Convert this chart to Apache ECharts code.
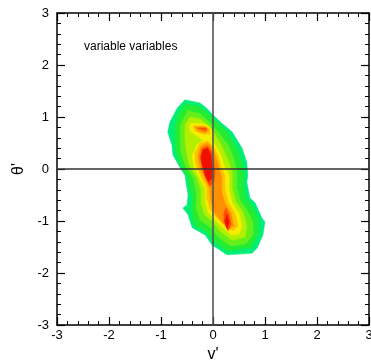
<!DOCTYPE html>
<html><head><meta charset="utf-8">
<script src="https://cdn.jsdelivr.net/npm/echarts@6/dist/echarts.min.js"></script>
<style>html,body{margin:0;padding:0;background:#fff}#c{width:371px;height:360px}</style>
</head><body><div id="c"></div>
<script>
const xTicks = [-3,-2,-1,0,1,2,3];
const yTicks = [-3,-2,-1,0,1,2,3];
const xName = "v'";
const yName = "θ'";
const note = "variable variables";
const levelColors = ['#00ee77','#22ec33','#66ee1a','#b4ee00','#f4ee00','#ffc000','#ff9000','#ff4e00','#ee1000'];

const level1 = [[-0.54,1.33],[-0.25,1.27],[-0.12,1.17],[0,1.04],[0.17,0.88],[0.37,0.71],[0.56,0.40],[0.65,0.13],[0.67,-0.12],[0.65,-0.25],[0.71,-0.56],[0.81,-0.65],[0.94,-0.94],[1.0,-1.02],[0.96,-1.27],[0.85,-1.52],[0.75,-1.62],[0.27,-1.65],[-0.02,-1.46],[-0.15,-1.27],[-0.40,-1.13],[-0.48,-0.88],[-0.58,-0.75],[-0.50,-0.69],[-0.48,-0.50],[-0.54,-0.12],[-0.63,0.02],[-0.77,0.27],[-0.79,0.46],[-0.87,0.71],[-0.83,0.90],[-0.69,1.17]];
const level2 = [[-0.52,1.25],[-0.25,1.19],[-0.06,1.04],[0.13,0.85],[0.29,0.69],[0.46,0.40],[0.56,0.13],[0.60,-0.12],[0.58,-0.31],[0.63,-0.56],[0.75,-0.71],[0.87,-0.94],[0.88,-1.23],[0.75,-1.50],[0.29,-1.58],[0.02,-1.40],[-0.12,-1.21],[-0.35,-1.08],[-0.42,-0.83],[-0.40,-0.56],[-0.48,-0.17],[-0.63,0.08],[-0.71,0.33],[-0.73,0.56],[-0.73,0.79],[-0.67,1.06]];
const level3 = [[-0.48,1.13],[-0.25,1.06],[-0.06,0.90],[0.10,0.71],[0.29,0.46],[0.40,0.21],[0.46,-0.06],[0.46,-0.37],[0.52,-0.60],[0.65,-0.79],[0.77,-1.02],[0.77,-1.27],[0.63,-1.44],[0.33,-1.48],[0.10,-1.31],[-0.04,-1.13],[-0.25,-0.98],[-0.33,-0.75],[-0.31,-0.50],[-0.38,-0.17],[-0.54,0.08],[-0.62,0.33],[-0.63,0.56],[-0.63,0.85]];
const level4 = [[-0.44,1.0],[-0.25,0.96],[-0.10,0.85],[0.02,0.69],[0.17,0.44],[0.29,0.17],[0.37,-0.06],[0.37,-0.37],[0.44,-0.63],[0.58,-0.83],[0.65,-1.08],[0.62,-1.31],[0.37,-1.37],[0.15,-1.21],[0,-1.02],[-0.17,-0.87],[-0.23,-0.65],[-0.23,-0.40],[-0.31,-0.17],[-0.46,0.08],[-0.52,0.37],[-0.54,0.62],[-0.54,0.85]];
const level5 = [[-0.42,0.88],[-0.21,0.87],[-0.06,0.81],[0,0.69],[-0.04,0.58],[0.06,0.44],[0.15,0.27],[0.21,0.08],[0.31,-0.12],[0.31,-0.40],[0.37,-0.65],[0.50,-0.85],[0.56,-1.10],[0.50,-1.25],[0.35,-1.27],[0.19,-1.13],[0.04,-0.98],[-0.10,-0.83],[-0.15,-0.60],[-0.15,-0.37],[-0.27,-0.15],[-0.38,0.08],[-0.40,0.27],[-0.31,0.46],[-0.19,0.56],[-0.29,0.62],[-0.42,0.71],[-0.46,0.81]];
const level6a = [[-0.38,0.83],[-0.17,0.83],[-0.06,0.77],[-0.06,0.67],[-0.19,0.67],[-0.35,0.73]];
const level6b = [[-0.25,0.50],[-0.10,0.54],[0.02,0.42],[0.10,0.25],[0.15,0.06],[0.23,-0.13],[0.23,-0.40],[0.29,-0.63],[0.42,-0.85],[0.48,-1.10],[0.38,-1.19],[0.23,-1.10],[0.08,-0.94],[-0.06,-0.77],[-0.12,-0.56],[-0.12,-0.35],[-0.23,-0.15],[-0.33,0.08],[-0.35,0.31]];
const level7a = [[-0.35,0.81],[-0.15,0.81],[-0.08,0.75],[-0.15,0.69],[-0.29,0.73]];
const level7b = [[-0.23,0.44],[-0.10,0.50],[0,0.38],[0.06,0.21],[0.12,0.02],[0.17,-0.17],[0.17,-0.44],[0.23,-0.65],[0.35,-0.85],[0.40,-1.10],[0.31,-1.15],[0.17,-1.02],[0.04,-0.85],[-0.04,-0.63],[-0.06,-0.40],[-0.13,-0.21],[-0.25,0.02],[-0.29,0.25]];
const level8a = [[-0.29,0.79],[-0.12,0.79],[-0.15,0.73]];
const level8b = [[-0.21,0.40],[-0.10,0.44],[-0.02,0.33],[0.02,0.13],[0.04,-0.06],[0.02,-0.25],[-0.06,-0.33],[-0.13,-0.21],[-0.19,-0.02],[-0.25,0.21]];
const level8c = [[0.25,-0.75],[0.31,-0.88],[0.35,-1.06],[0.29,-1.19],[0.21,-1.02],[0.21,-0.85]];
const level9a = [[-0.19,0.37],[-0.10,0.40],[-0.04,0.27],[-0.02,0.08],[-0.02,-0.17],[-0.08,-0.25],[-0.15,-0.12],[-0.21,0.08],[-0.23,0.23]];
const level9b = [[0.27,-0.87],[0.31,-1.02],[0.27,-1.15],[0.23,-1.0]];

const vLine = [[0,-3],[0,3]];
const hLine = [[-3,0],[3,0]];

const polys = [
  [level1,0],[level2,1],[level3,2],[level4,3],[level5,4],
  [level6a,5],[level6b,5],[level7a,6],[level7b,6],
  [level8a,7],[level8b,7],[level8c,7],[level9a,8],[level9b,8]
];

const FONT = 'Liberation Sans, Arial, sans-serif';
function polySeries(poly, ci){
  return {
    type:'custom', xAxisIndex:0, yAxisIndex:0, silent:true, z:2,
    data: poly,
    renderItem: function(params, api){
      if(params.dataIndex !== 0) return null;
      return {type:'polygon', shape:{points: poly.map(p => api.coord(p))},
        style:{fill: levelColors[ci], stroke: levelColors[ci], lineWidth:0.5}};
    }
  };
}
const series = polys.map(p => polySeries(p[0], p[1]));
series.push({type:'line', data:vLine, symbol:'none', z:5, silent:true, lineStyle:{color:'#555', width:1.6}});
series.push({type:'line', data:hLine, symbol:'none', z:5, silent:true, lineStyle:{color:'#333', width:1.5}});

const axisCommon = {
  type:'value', min:-3, max:3, interval:1,
  axisLine:{show:true, onZero:false, lineStyle:{color:'#000', width:1.5}},
  axisTick:{show:true, inside:true, length:8, lineStyle:{color:'#000', width:1.2}},
  minorTick:{show:true, splitNumber:5, length:4, lineStyle:{color:'#000', width:1}},
  splitLine:{show:false}
};

const chart = echarts.init(document.getElementById('c'), null, {renderer:'canvas'});
chart.setOption({
  animation:false,
  backgroundColor:'#fff',
  grid:{left:57, top:13, width:312, height:312, containLabel:false, outerBoundsMode:'none'},
  xAxis:[
    Object.assign({}, axisCommon, {position:'bottom', name:xName, nameLocation:'middle', nameGap:15,
      nameTextStyle:{fontFamily:FONT, fontSize:16, color:'#000'},
      axisLabel:{fontFamily:FONT, fontSize:13, color:'#000', margin:4, formatter:v=>xTicks.includes(v)?String(v):''}}),
    Object.assign({}, axisCommon, {position:'top', axisLabel:{show:false}})
  ],
  yAxis:[
    Object.assign({}, axisCommon, {position:'left', name:yName, nameLocation:'middle', nameGap:30, nameRotate:90,
      nameTextStyle:{fontFamily:FONT, fontSize:16, color:'#000'},
      axisLabel:{fontFamily:FONT, fontSize:13, color:'#000', margin:8, formatter:v=>yTicks.includes(v)?String(v):''}}),
    Object.assign({}, axisCommon, {position:'right', axisLabel:{show:false}})
  ],
  graphic:[{type:'text', left:84, top:41, z:10, style:{text:note, fontFamily:FONT, fontSize:12, fill:'#000'}}],
  series: series
});
</script></body></html>
